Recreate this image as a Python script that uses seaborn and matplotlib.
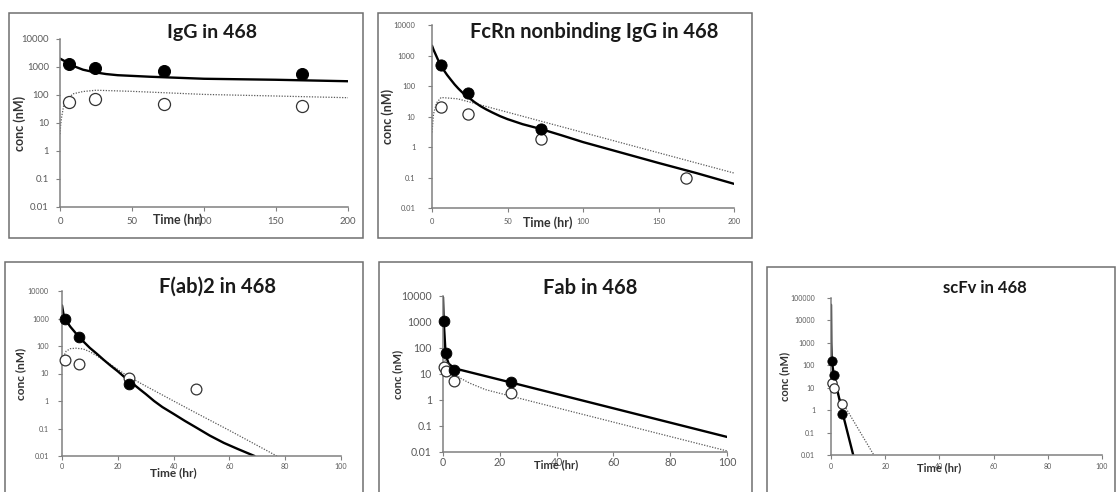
import matplotlib
matplotlib.use('Agg')
import matplotlib.pyplot as plt
from matplotlib.patches import Rectangle
from matplotlib.ticker import NullLocator
import seaborn as sns

# values: time in hr, conc in nM
# filled circles / solid line = closed series, open circles / dotted line = open series

# IgG in 468
igg_t = [6, 24, 72, 168]
igg_closed = [1250, 900, 700, 550]
igg_open = [57, 72, 46, 40]
igg_fit_t = [0, 3, 6, 10, 16, 24, 32, 40, 62, 100, 150, 200]
igg_fit_closed = [2000, 1650, 1350, 1050, 800, 650, 560, 510, 450, 380, 350, 310]
igg_fit2_t = [0, 0.5, 1.2, 2.5, 4.6, 9, 16, 25, 50, 100, 150, 200]
igg_fit_open = [4, 9, 17, 40, 66, 110, 133, 148, 135, 105, 92, 80]

# FcRn nonbinding IgG in 468
fcrn_closed_t = [6, 24, 72]
fcrn_closed = [490, 61, 3.9]
fcrn_open_t = [6, 24, 72, 168]
fcrn_open = [21, 12, 1.8, 0.10]
fcrn_fit_t = [0, 1, 2, 4, 6, 8, 10, 12.5, 15, 17.5, 20, 24, 28, 32, 36, 40,
              45, 50, 60, 72, 86, 100, 125, 150, 175, 200]
fcrn_fit_closed = [2100, 1550, 1200, 720, 480, 320, 230, 160, 112, 82, 62,
                   43, 30, 22, 17, 13.5, 10.3, 8.2, 5.6, 3.9, 2.4, 1.45, 0.66,
                   0.3, 0.14, 0.062]
fcrn_fit2_t = [0, 1, 3, 6, 17, 200]
fcrn_fit_open = [3, 12, 28, 42, 38, 0.14]

# F(ab)2 in 468
fab2_closed_t = [1, 6, 24]
fab2_closed = [1000, 215, 4.0]
fab2_open_t = [1, 6, 24, 48]
fab2_open = [30, 22, 6.6, 2.8]
fab2_fit_t = [0, 0.5, 1, 2, 3, 4.5, 6, 8, 10, 12.5, 15, 17.5, 20, 22, 24, 26,
              28, 30, 33, 36, 40, 44, 48, 53, 58, 63, 69]
fab2_fit_closed = [3000, 1500, 1000, 700, 500, 330, 215, 135, 85, 52, 31, 19,
                   12, 8, 5.5, 3.8, 2.6, 1.8, 1.0, 0.6, 0.34, 0.19, 0.11,
                   0.055, 0.03, 0.018, 0.01]
fab2_fit2_t = [0, 0.5, 1.5, 3, 5, 7.6, 10, 12.5, 15, 17.5, 20, 24, 30, 40,
               48, 60, 77]
fab2_fit_open = [20, 40, 65, 80, 83, 78, 62, 44, 30, 21, 14, 7.5, 3.5, 1.0,
                 0.37, 0.085, 0.01]

# Fab in 468
fab_t = [0.25, 1, 4, 24]
fab_closed = [1100, 62, 14, 5.0]
fab_open = [18, 13, 5.2, 1.8]
fab_fit_t = [0, 0.25, 0.8, 1.2, 2, 4, 24, 100]
fab_fit_closed = [9000, 1100, 100, 45, 25, 16.5, 4.7, 0.038]
fab_fit2_t = [0, 0.3, 0.7, 1.5, 2.5, 4, 6, 9.5, 15, 24, 100]
fab_fit_open = [8, 25, 35, 25, 16, 11, 7, 4.4, 2.5, 1.4, 0.011]

# scFv in 468
scfv_t = [0.25, 1, 4]
scfv_closed = [160, 36, 0.66]
scfv_open = [16, 10, 1.8]
scfv_fit_t = [0, 0.1, 0.25, 1, 4, 8.2]
scfv_fit_closed = [50000, 1000, 170, 40, 1.0, 0.01]
scfv_fit2_t = [0, 1, 15.8]
scfv_fit_open = [18, 10, 0.01]

titles = ['IgG in 468', 'FcRn nonbinding IgG in 468', 'F(ab)2 in 468',
          'Fab in 468', 'scFv in 468']
top_xticks = [0, 50, 100, 150, 200]
bottom_xticks = [0, 20, 40, 60, 80, 100]
yticks = [0.01, 0.1, 1, 10, 100, 1000, 10000]
ytick_labels = ['0.01', '0.1', '1', '10', '100', '1000', '10000']
scfv_yticks = yticks + [100000]
scfv_ytick_labels = ytick_labels + ['100000']

sns.set_theme(style='ticks')
plt.rcParams['font.family'] = ['Lato', 'DejaVu Sans']

W, H = 1117, 492
fig = plt.figure(figsize=(W / 100, H / 100), dpi=100)


def fig_rect(l, t, r, b):
    return [l / W, 1 - b / H, (r - l) / W, (b - t) / H]


panels = [
    dict(box=(60, 39, 348, 207), frame=(9, 13, 363, 238),
         fit=(igg_fit_t, igg_fit_closed), fit2=(igg_fit2_t, igg_fit_open),
         closed=(igg_t, igg_closed), opn=(igg_t, igg_open),
         xticks=top_xticks, yt=(yticks, ytick_labels), ylim=(0.01, 10000),
         title_xy=(0.528, 1.036), title_fs=14, tick_fs=6.8, lab_fs=9.0,
         xlab_xy=(0.41, -0.077), ylab_x=-0.139, ms=75, xpad=4.5, ypad=5),
    dict(box=(432, 25, 734, 208), frame=(378, 13, 752, 238),
         fit=(fcrn_fit_t, fcrn_fit_closed), fit2=(fcrn_fit2_t, fcrn_fit_open),
         closed=(fcrn_closed_t, fcrn_closed), opn=(fcrn_open_t, fcrn_open),
         xticks=top_xticks, yt=(yticks, ytick_labels), ylim=(0.01, 10000),
         title_xy=(0.536, 0.962), title_fs=14.5, tick_fs=5.4, lab_fs=9.0,
         xlab_xy=(0.384, -0.082), ylab_x=-0.146, ms=65, xpad=4.5, ypad=9),
    dict(box=(62, 291, 341, 456), frame=(5, 262, 363, 520),
         fit=(fab2_fit_t, fab2_fit_closed), fit2=(fab2_fit2_t, fab2_fit_open),
         closed=(fab2_closed_t, fab2_closed), opn=(fab2_open_t, fab2_open),
         xticks=bottom_xticks, yt=(yticks, ytick_labels), ylim=(0.01, 10000),
         title_xy=(0.559, 1.024), title_fs=14.5, tick_fs=5.1, lab_fs=8.6,
         xlab_xy=(0.40, -0.103), ylab_x=-0.147, ms=60, xpad=2, ypad=6.5),
    dict(box=(443, 296, 727, 452), frame=(379, 262, 752, 520),
         fit=(fab_fit_t, fab_fit_closed), fit2=(fab_fit2_t, fab_fit_open),
         closed=(fab_t, fab_closed), opn=(fab_t, fab_open),
         xticks=bottom_xticks, yt=(yticks, ytick_labels), ylim=(0.01, 10000),
         title_xy=(0.518, 1.051), title_fs=14.5, tick_fs=7.6, lab_fs=8,
         xlab_xy=(0.40, -0.08), ylab_x=-0.16, ms=60, xpad=0.5, ypad=5),
    dict(box=(831, 298, 1102, 455), frame=(767, 267, 1115, 520),
         fit=(scfv_fit_t, scfv_fit_closed), fit2=(scfv_fit2_t, scfv_fit_open),
         closed=(scfv_t, scfv_closed), opn=(scfv_t, scfv_open),
         xticks=bottom_xticks, yt=(scfv_yticks, scfv_ytick_labels),
         ylim=(0.01, 100000),
         title_xy=(0.568, 1.064), title_fs=12, tick_fs=5.0, lab_fs=8,
         xlab_xy=(0.40, -0.08), ylab_x=-0.17, ms=45, xpad=2.5, ypad=8.5),
]

grey = '#808080'
for title, p in zip(titles, panels):
    l, t, r, b = p['frame']
    fig.add_artist(Rectangle((l / W, 1 - b / H), (r - l) / W, (b - t) / H,
                             transform=fig.transFigure, fill=False,
                             ec='#6f6f6f', lw=1.1))
    ax = fig.add_axes(fig_rect(*p['box']))
    sns.lineplot(x=p['fit2'][0], y=p['fit2'][1], ax=ax, color='#5a5a5a',
                 lw=0.9, linestyle=(0, (1, 1.2)), estimator=None, sort=False)
    sns.lineplot(x=p['fit'][0], y=p['fit'][1], ax=ax, color='black',
                 lw=1.7, estimator=None, sort=False)
    sns.scatterplot(x=p['opn'][0], y=p['opn'][1], ax=ax, color='white',
                    edgecolor='#333333', linewidth=0.9, s=p['ms'], zorder=3,
                    clip_on=False)
    sns.scatterplot(x=p['closed'][0], y=p['closed'][1], ax=ax, color='black',
                    edgecolor='black', s=p['ms'], zorder=4, clip_on=False)
    ax.set_yscale('log')
    ax.set_ylim(*p['ylim'])
    ax.set_xlim(p['xticks'][0], p['xticks'][-1])
    ax.set_yticks(p['yt'][0], labels=p['yt'][1])
    ax.yaxis.set_minor_locator(NullLocator())
    ax.set_xticks(p['xticks'])
    sns.despine(ax=ax)
    for side in ['left', 'bottom']:
        ax.spines[side].set_color(grey)
        ax.spines[side].set_linewidth(1.1)
    ax.tick_params(axis='both', direction='out', length=3, width=0.8,
                   color=grey, labelcolor='#595959', labelsize=p['tick_fs'])
    ax.tick_params(axis='x', pad=p['xpad'])
    ax.tick_params(axis='y', pad=p['ypad'])
    ax.set_title(title, x=p['title_xy'][0], y=p['title_xy'][1], va='center',
                 fontsize=p['title_fs'], fontweight='bold', color='#1a1a1a',
                 pad=0)
    ax.set_xlabel('Time (hr)', fontsize=p['lab_fs'], fontweight='bold',
                  color='#333333', va='center')
    ax.xaxis.set_label_coords(*p['xlab_xy'])
    ax.set_ylabel('conc (nM)', fontsize=p['lab_fs'], fontweight='bold',
                  color='#333333', va='center')
    ax.yaxis.set_label_coords(p['ylab_x'], 0.5)
    ax.set_facecolor('white')

fig.savefig('out.png', dpi=100, facecolor='white')
